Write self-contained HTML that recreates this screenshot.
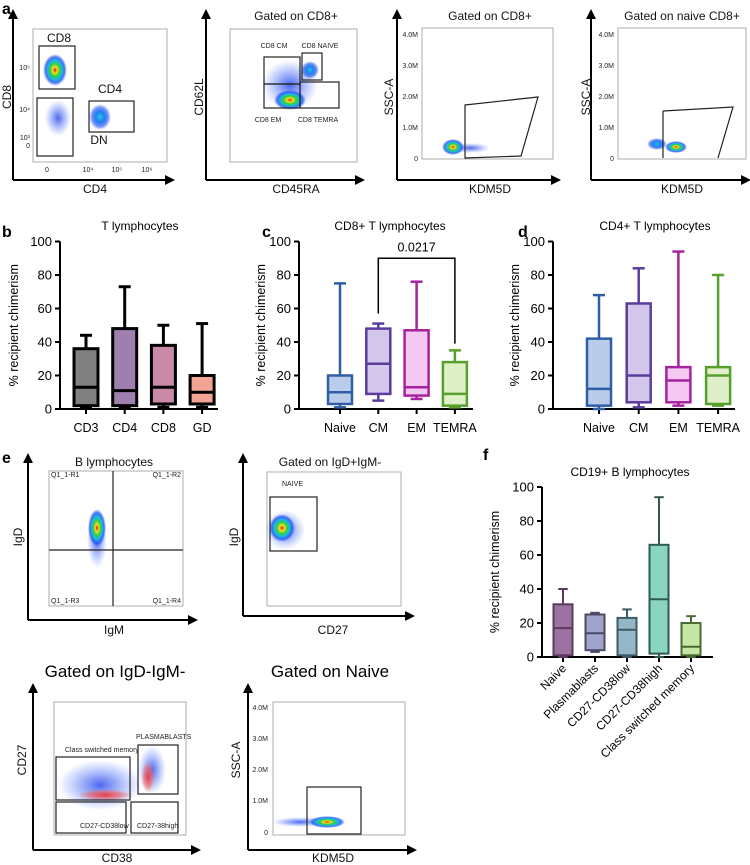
<!DOCTYPE html>
<html><head><meta charset="utf-8"><style>
html,body{margin:0;padding:0;background:#fff}
svg{display:block;font-family:"Liberation Sans",sans-serif}
.t{font-size:12px;fill:#111}
.s{font-size:7px;fill:#222}
.ax{stroke:#000;stroke-width:2;fill:none}
.fr{stroke:#999;stroke-width:0.8;fill:none}
.g{stroke:#222;stroke-width:1.2;fill:none}
</style></head><body>
<svg id="fig" width="750" height="865" viewBox="0 0 750 865">
<defs>
<radialGradient id="heat"><stop offset="0" stop-color="#e8101a"/><stop offset="0.2" stop-color="#f2e01a"/><stop offset="0.4" stop-color="#30d040"/><stop offset="0.6" stop-color="#18b8e8"/><stop offset="0.8" stop-color="#2050f0" stop-opacity="0.8"/><stop offset="1" stop-color="#3060ff" stop-opacity="0"/></radialGradient>
<radialGradient id="cool"><stop offset="0" stop-color="#20c8e8"/><stop offset="0.4" stop-color="#2080f0"/><stop offset="0.75" stop-color="#2050f0" stop-opacity="0.6"/><stop offset="1" stop-color="#3060ff" stop-opacity="0"/></radialGradient>
<radialGradient id="blue"><stop offset="0" stop-color="#2040e8" stop-opacity="0.8"/><stop offset="1" stop-color="#4070ff" stop-opacity="0"/></radialGradient>
<radialGradient id="redc"><stop offset="0" stop-color="#f03030" stop-opacity="0.9"/><stop offset="0.6" stop-color="#f06060" stop-opacity="0.6"/><stop offset="1" stop-color="#f08080" stop-opacity="0"/></radialGradient>
<marker id="arr" viewBox="0 0 10 10" refX="5" refY="5" markerWidth="5" markerHeight="5" orient="auto-start-reverse"><path d="M0,0L10,5L0,10z" fill="#000"/></marker>
</defs>

<!-- Panel a -->
<text x="2" y="14" font-size="16" font-weight="bold">a</text>
<g>
<path class="ax" d="M13,180 L13,14" marker-end="url(#arr)"/><path class="ax" d="M13,180 L170,180" marker-end="url(#arr)"/>
<rect class="fr" x="33" y="29" width="134" height="133"/>
<ellipse cx="55" cy="70" rx="12" ry="16" fill="url(#heat)"/>
<ellipse cx="58" cy="118" rx="13" ry="18" fill="url(#blue)"/>
<ellipse cx="100" cy="117" rx="11" ry="13" fill="url(#cool)"/>
<rect class="g" x="39" y="46" width="36" height="43"/><rect class="g" x="37" y="98" width="36" height="58"/><rect class="g" x="89" y="101" width="45" height="31"/>
<text x="59" y="42" class="t" text-anchor="middle" font-size="13">CD8</text><text x="110" y="93" class="t" text-anchor="middle" font-size="13">CD4</text><text x="99" y="144" class="t" text-anchor="middle" font-size="13">DN</text>
<text x="30" y="70" class="s" text-anchor="end">10⁵</text><text x="30" y="112" class="s" text-anchor="end">10⁴</text><text x="30" y="140" class="s" text-anchor="end">10³</text><text x="30" y="148" class="s" text-anchor="end">0</text>
<text x="47" y="172" class="s" text-anchor="middle">0</text><text x="88" y="172" class="s" text-anchor="middle">10⁴</text><text x="117" y="172" class="s" text-anchor="middle">10⁵</text><text x="147" y="172" class="s" text-anchor="middle">10⁶</text>
<text x="95" y="193" class="t" text-anchor="middle">CD4</text>
<text transform="translate(11,97) rotate(-90)" class="t" text-anchor="middle">CD8</text>
</g>
<g>
<path class="ax" d="M206,180 L206,14" marker-end="url(#arr)"/><path class="ax" d="M206,180 L360,180" marker-end="url(#arr)"/>
<rect class="fr" x="230" y="29" width="127" height="133"/>
<ellipse cx="290" cy="85" rx="28" ry="25" fill="url(#blue)"/>
<ellipse cx="310" cy="70" rx="9" ry="9" fill="url(#cool)"/>
<ellipse cx="290" cy="100" rx="16" ry="10" fill="url(#heat)"/>
<rect class="g" x="264" y="57" width="36" height="27"/><rect class="g" x="302" y="53" width="20" height="27"/><rect class="g" x="264" y="84" width="36" height="24"/><rect class="g" x="300" y="82" width="39" height="26"/>
<text x="274" y="48" class="s" font-size="9" text-anchor="middle">CD8 CM</text><text x="320" y="48" class="s" font-size="9" text-anchor="middle">CD8 NAIVE</text><text x="268" y="122" class="s" font-size="9" text-anchor="middle">CD8 EM</text><text x="318" y="122" class="s" font-size="9" text-anchor="middle">CD8 TEMRA</text>
<text x="296" y="20" class="t" text-anchor="middle">Gated on CD8+</text>
<text x="296" y="193" class="t" text-anchor="middle">CD45RA</text>
<text transform="translate(203,97) rotate(-90)" class="t" text-anchor="middle">CD62L</text>
</g>
<g>
<path class="ax" d="M397,180 L397,14" marker-end="url(#arr)"/><path class="ax" d="M397,180 L556,180" marker-end="url(#arr)"/>
<rect class="fr" x="422" y="28" width="131" height="131"/>
<ellipse cx="470" cy="148" rx="20" ry="5" fill="url(#blue)"/>
<ellipse cx="453" cy="147" rx="11" ry="8" fill="url(#heat)"/>
<path class="g" d="M465,105 L538,97 L521,156 L465,158 Z"/>
<text x="418" y="37" class="s" text-anchor="end">4.0M</text><text x="418" y="68" class="s" text-anchor="end">3.0M</text><text x="418" y="99" class="s" text-anchor="end">2.0M</text><text x="418" y="130" class="s" text-anchor="end">1.0M</text><text x="418" y="161" class="s" text-anchor="end">0</text>
<text x="490" y="20" class="t" text-anchor="middle">Gated on CD8+</text>
<text x="490" y="193" class="t" text-anchor="middle">KDM5D</text>
<text transform="translate(393,97) rotate(-90)" class="t" text-anchor="middle">SSC-A</text>
</g>
<g>
<path class="ax" d="M591,180 L591,14" marker-end="url(#arr)"/><path class="ax" d="M591,180 L746,180" marker-end="url(#arr)"/>
<rect class="fr" x="618" y="28" width="128" height="131"/>
<ellipse cx="657" cy="144" rx="10" ry="6" fill="url(#cool)"/>
<ellipse cx="676" cy="147" rx="11" ry="6" fill="url(#heat)"/>
<path class="g" d="M663,111 L733,107 L718,158 M663,158 L663,111"/>
<text x="614" y="37" class="s" text-anchor="end">4.0M</text><text x="614" y="68" class="s" text-anchor="end">3.0M</text><text x="614" y="99" class="s" text-anchor="end">2.0M</text><text x="614" y="130" class="s" text-anchor="end">1.0M</text><text x="614" y="161" class="s" text-anchor="end">0</text>
<text x="682" y="20" class="t" text-anchor="middle">Gated on naive CD8+</text>
<text x="682" y="193" class="t" text-anchor="middle">KDM5D</text>
<text transform="translate(590,97) rotate(-90)" class="t" text-anchor="middle" font-size="18">SSC-A</text>
</g>

<!-- Panels b,c,d,f containers -->
<text x="2" y="237" font-size="16" font-weight="bold">b</text>
<text x="262" y="237" font-size="16" font-weight="bold">c</text>
<text x="518" y="237" font-size="16" font-weight="bold">d</text>
<text x="2" y="463" font-size="16" font-weight="bold">e</text>
<text x="483" y="460" font-size="16" font-weight="bold">f</text>
<g id="charts"></g>

<!-- Panel e -->
<g>
<path class="ax" d="M28,620 L28,458" marker-end="url(#arr)"/><path class="ax" d="M28,620 L193,620" marker-end="url(#arr)"/>
<rect class="fr" x="49" y="471" width="134" height="135"/>
<ellipse cx="97" cy="540" rx="10" ry="28" fill="url(#blue)"/>
<ellipse cx="97" cy="528" rx="9" ry="19" fill="url(#heat)"/>
<path class="g" d="M113,471 L113,606 M49,550 L183,550" stroke-width="1"/>
<text x="51" y="477" class="s">Q1_1-R1</text><text x="181" y="477" class="s" text-anchor="end">Q1_1-R2</text><text x="51" y="603" class="s">Q1_1-R3</text><text x="181" y="603" class="s" text-anchor="end">Q1_1-R4</text>
<text x="114" y="466" class="t" text-anchor="middle">B lymphocytes</text>
<text x="114" y="634" class="t" text-anchor="middle">IgM</text>
<text transform="translate(22,537) rotate(-90)" class="t" text-anchor="middle">IgD</text>
</g>
<g>
<path class="ax" d="M243,616 L243,458" marker-end="url(#arr)"/><path class="ax" d="M243,616 L410,616" marker-end="url(#arr)"/>
<rect class="fr" x="267" y="472" width="134" height="134"/>
<ellipse cx="285" cy="530" rx="20" ry="20" fill="url(#blue)"/>
<ellipse cx="282" cy="528" rx="13" ry="14" fill="url(#heat)"/>
<rect class="g" x="270" y="497" width="47" height="54"/>
<text x="282" y="486" class="s">NAIVE</text>
<text x="330" y="466" class="t" text-anchor="middle">Gated on IgD+IgM-</text>
<text x="333" y="634" class="t" text-anchor="middle">CD27</text>
<text transform="translate(238,537) rotate(-90)" class="t" text-anchor="middle">IgD</text>
</g>
<g>
<text x="115" y="677" font-size="17" text-anchor="middle">Gated on IgD-IgM-</text>
<path class="ax" d="M33,850 L33,688" marker-end="url(#arr)"/><path class="ax" d="M33,850 L196,850" marker-end="url(#arr)"/>
<rect class="fr" x="54" y="702" width="132" height="133"/>
<ellipse cx="100" cy="785" rx="42" ry="25" fill="url(#blue)"/>
<ellipse cx="152" cy="770" rx="14" ry="24" fill="url(#blue)"/>
<ellipse cx="105" cy="795" rx="28" ry="6" fill="url(#redc)"/>
<ellipse cx="148" cy="777" rx="7" ry="16" fill="url(#redc)"/>
<rect class="g" x="56" y="757" width="74" height="43"/><rect class="g" x="138" y="745" width="40" height="49"/><rect class="g" x="56" y="802" width="70" height="31"/><rect class="g" x="131" y="802" width="47" height="31"/>
<text x="65" y="752" class="s" font-size="5">Class switched memory</text><text x="136" y="739" class="s" font-size="5">PLASMABLASTS</text><text x="80" y="828" class="s" font-size="5">CD27-CD38low</text><text x="137" y="828" class="s" font-size="5">CD27-38high</text>
<text x="117" y="867" class="t" font-size="13" text-anchor="middle" dy="-5">CD38</text>
<text transform="translate(26,760) rotate(-90)" class="t" font-size="13" text-anchor="middle">CD27</text>
</g>
<g>
<text x="330" y="677" font-size="17" text-anchor="middle">Gated on Naive</text>
<path class="ax" d="M248,850 L248,688" marker-end="url(#arr)"/><path class="ax" d="M248,850 L412,850" marker-end="url(#arr)"/>
<rect class="fr" x="273" y="702" width="132" height="133"/>
<ellipse cx="300" cy="822" rx="28" ry="5" fill="url(#blue)"/>
<ellipse cx="327" cy="822" rx="18" ry="6" fill="url(#heat)"/>
<rect class="g" x="307" y="787" width="54" height="47"/>
<text x="268" y="710" class="s" text-anchor="end">4.0M</text><text x="268" y="741" class="s" text-anchor="end">3.0M</text><text x="268" y="772" class="s" text-anchor="end">2.0M</text><text x="268" y="803" class="s" text-anchor="end">1.0M</text><text x="268" y="835" class="s" text-anchor="end">0</text>
<text x="333" y="862" class="t" font-size="13" text-anchor="middle">KDM5D</text>
<text transform="translate(240,760) rotate(-90)" class="t" font-size="13" text-anchor="middle">SSC-A</text>
</g>
</svg>
<script>
// Panel b
const bCats = ["CD3","CD4","CD8","GD"];
const bMin = [1,1,1,1], bQ1 = [2,2,3,3], bMed = [13,11,13,10], bQ3 = [36,48,38,20], bMax = [44,73,50,51];
// Panel c
const cCats = ["Naive","CM","EM","TEMRA"];
const cMin = [1,5,6,1], cQ1 = [3,9,8,2], cMed = [10,27,13,9], cQ3 = [20,48,47,28], cMax = [75,51,76,35];
// Panel d
const dCats = ["Naive","CM","EM","TEMRA"];
const dMin = [0,1,2,2], dQ1 = [2,4,4,3], dMed = [12,20,17,20], dQ3 = [42,63,25,25], dMax = [68,84,94,80];
// Panel f
const fCats = ["Naive","Plasmablasts","CD27-CD38low","CD27-CD38high","Class switched memory"];
const fMin = [0,3,0,0,0], fQ1 = [1,4,1,2,1], fMed = [17,14,16,34,6], fQ3 = [31,25,23,66,20], fMax = [40,26,28,94,24];
const yTicks = [0,20,40,60,80,100];
const pValue = "0.0217";

const NS="http://www.w3.org/2000/svg";
const root=document.getElementById('charts');
function mk(tag,attrs,parent){const e=document.createElementNS(NS,tag);for(const k in attrs)e.setAttribute(k,attrs[k]);(parent||root).appendChild(e);return e;}

function boxChart(cfg){
  const g=mk('g',{});
  
  
  const y=v=>cfg.y0-(v/100)*(cfg.y0-cfg.y100);
  const x=i=>cfg.c0+i*cfg.step;
  const t=mk('text',{x:cfg.titleX,y:cfg.titleY,'text-anchor':'middle','font-size':12},g);t.textContent=cfg.title;
  
  
  mk('line',{x1:cfg.ax,y1:y(100),x2:cfg.ax,y2:cfg.y0,stroke:'#000','stroke-width':2},g);
  mk('line',{x1:cfg.ax,y1:cfg.y0,x2:cfg.xEnd,y2:cfg.y0,stroke:'#000','stroke-width':2},g);
  yTicks.forEach(v=>{
    mk('line',{x1:cfg.ax-5,y1:y(v),x2:cfg.ax,y2:y(v),stroke:'#000','stroke-width':2},g);
    const tl=mk('text',{x:cfg.ax-8,y:y(v)+4.5,'text-anchor':'end','font-size':13},g);tl.textContent=v;
    
    
  });
  const yt=mk('text',{transform:`translate(${cfg.ytX},${(y(100)+cfg.y0)/2}) rotate(-90)`,'text-anchor':'middle','font-size':12.5},g);
  yt.textContent='% recipient chimerism';
  
  
  cfg.cats.forEach((c,i)=>{
    const cx=x(i), w=cfg.bw, sw=cfg.sw;
    mk('line',{x1:cx,y1:cfg.y0,x2:cx,y2:cfg.y0+5,stroke:'#000','stroke-width':2},g);
    const bx=mk('g',{},g);
    
    
    mk('line',{x1:cx,y1:y(cfg.max[i]),x2:cx,y2:y(cfg.min[i]),stroke:cfg.stroke[i],'stroke-width':sw},bx);
    mk('line',{x1:cx-w/4,y1:y(cfg.max[i]),x2:cx+w/4,y2:y(cfg.max[i]),stroke:cfg.stroke[i],'stroke-width':sw},bx);
    mk('line',{x1:cx-w/4,y1:y(cfg.min[i]),x2:cx+w/4,y2:y(cfg.min[i]),stroke:cfg.stroke[i],'stroke-width':sw},bx);
    mk('rect',{x:cx-w/2,y:y(cfg.q3[i]),width:w,height:y(cfg.q1[i])-y(cfg.q3[i]),fill:cfg.fill[i],stroke:cfg.stroke[i],'stroke-width':sw},bx);
    mk('line',{x1:cx-w/2,y1:y(cfg.med[i]),x2:cx+w/2,y2:y(cfg.med[i]),stroke:cfg.stroke[i],'stroke-width':sw},bx);
    let lab;
    if(cfg.rot){lab=mk('text',{transform:`translate(${cx+4},${cfg.y0+12}) rotate(-45)`,'text-anchor':'end','font-size':12},g);}
    else{lab=mk('text',{x:cx,y:cfg.y0+23,'text-anchor':'middle','font-size':12.5},g);}
    lab.textContent=c;
    
    
  });
  return {g,x,y};
}
boxChart({name:'boxplot-t-lymphocytes',title:'T lymphocytes',titleX:140,titleY:230,ax:60,xEnd:218,y0:409,y100:241.5,c0:86,step:38.7,bw:24,sw:3,ytX:18,
  cats:bCats,min:bMin,q1:bQ1,med:bMed,q3:bQ3,max:bMax,
  stroke:['#000','#000','#000','#000'],fill:['#808080','#9f7fae','#c98aa8','#f2a595']});
const cc=boxChart({name:'boxplot-cd8-t-lymphocytes',title:'CD8+ T lymphocytes',titleX:390,titleY:230,ax:299,xEnd:473,y0:409,y100:241.5,c0:340,step:38.3,bw:24,sw:2.5,ytX:265,
  cats:cCats,min:cMin,q1:cQ1,med:cMed,q3:cQ3,max:cMax,
  stroke:['#2f5ea6','#5a3c9c','#a6229e','#58a02c'],fill:['#b9cdea','#d2c6ea','#f4c8f0','#dff0c8']});
(function(){
  const y=cc.y,x=cc.x;
  const p=mk('path',{d:`M${x(1)},${y(57)} L${x(1)},${y(90)} L${x(3)},${y(90)} L${x(3)},${y(39)}`,fill:'none',stroke:'#000','stroke-width':1.5},cc.g);
  
  
  const t=mk('text',{x:(x(1)+x(3))/2,y:y(90)-7,'text-anchor':'middle','font-size':12.5},cc.g);t.textContent=pValue;
  
  
})();
boxChart({name:'boxplot-cd4-t-lymphocytes',title:'CD4+ T lymphocytes',titleX:655,titleY:230,ax:553,xEnd:735,y0:409,y100:241.5,c0:599,step:39.7,bw:24,sw:2.5,ytX:519,
  cats:dCats,min:dMin,q1:dQ1,med:dMed,q3:dQ3,max:dMax,
  stroke:['#2f5ea6','#5a3c9c','#a6229e','#58a02c'],fill:['#b9cdea','#d2c6ea','#f4c8f0','#dff0c8']});
boxChart({name:'boxplot-cd19-b-lymphocytes',title:'CD19+ B lymphocytes',titleX:630,titleY:476,ax:542,xEnd:713,y0:657,y100:487,c0:563,step:32,bw:19,sw:2,ytX:499,rot:true,
  cats:fCats,min:fMin,q1:fQ1,med:fMed,q3:fQ3,max:fMax,
  stroke:['#5a3a5e','#4a4a66','#3e5a66','#2e5a50','#4a6a34'],fill:['#9c72a0','#a0a4cc','#93b7c6','#8ad5c0','#c2e8a4']});
</script>
</body></html>
